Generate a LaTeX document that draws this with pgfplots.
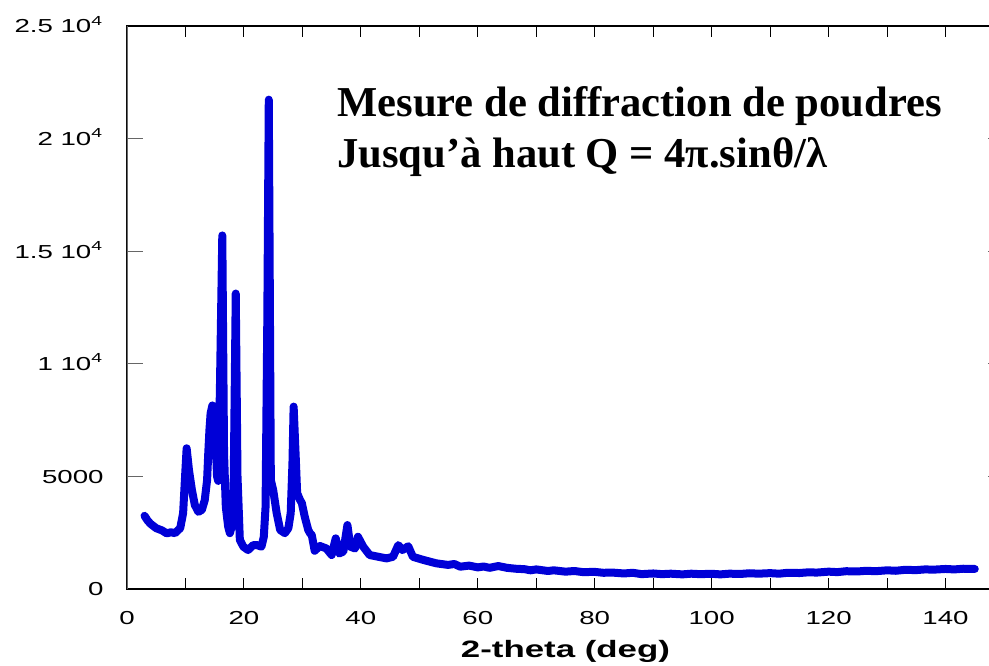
\documentclass[border=0pt]{standalone}
\usepackage{pgfplots}
\pgfplotsset{compat=1.18}
\usepackage{graphicx}
\usepackage{fontspec}
\setmainfont{Liberation Sans}
\newfontfamily\titlefont{Liberation Serif}
\usetikzlibrary{calc}
\definecolor{xrd}{RGB}{0,0,215}
% labels of the original are stretched sideways
\newcommand{\hs}[1]{\scalebox{1.47}[1]{#1}}

\begin{document}
\begin{tikzpicture}
\begin{axis}[
  name=ax,
  scale only axis,
  width=438.5pt, height=281.5pt,
  xmin=0, xmax=150, ymin=0, ymax=25000,
  scaled y ticks=false,
  xtick={0,10,...,150},
  xticklabels={\hs{0},,\hs{20},,\hs{40},,\hs{60},,\hs{80},,\hs{100},,\hs{120},,\hs{140},},
  ytick={0,5000,...,25000},
  minor ytick={0,5000,...,25000},
  yticklabels={\hs{0},\hs{5000},\hs{1 10\textsuperscript{4}},\hs{1.5 10\textsuperscript{4}},\hs{2 10\textsuperscript{4}},\hs{2.5 10\textsuperscript{4}}},
  tick align=inside,
  major tick length=5.5pt,
  minor tick length=8pt,
  axis line style={black, line width=0.7pt},
  xtick style={black, line width=0.5pt},
  ytick style={black!60, line width=0.6pt},
  tick label style={font=\fontsize{9.4}{11}\selectfont, inner sep=0pt},
  xticklabel style={anchor=base, yshift=-17.75pt},
  yticklabel style={anchor=base east, xshift=-11.5pt, yshift=-3.4pt},
  xlabel={\hs{\textbf{2-theta (deg)}}},
  xlabel style={font=\fontsize{11.85}{14}\selectfont, inner sep=0pt,
    at={(axis description cs:0.5,0)}, anchor=base, yshift=-34pt},
]
\addplot[xrd, line width=4pt, line join=round, line cap=round] coordinates {
(3.0,3250) (3.5,3050) (4.0,2900) (5.0,2700) (6.0,2600) (6.8,2470) (7.5,2520) (8.2,2480)
(9.1,2700) (9.6,3370) (9.9,4840) (10.2,6250) (10.6,5280) (11.1,4400) (11.6,3730) (12.2,3430)
(12.8,3510) (13.3,3950) (13.7,4840) (13.9,6040) (14.1,7060) (14.3,7800) (14.6,8150) (14.9,7500)
(15.2,6320) (15.4,5000) (15.6,4800) (15.9,9000) (16.3,15700) (16.6,6000) (16.9,3650) (17.3,2770)
(17.6,2480) (17.9,2770) (18.2,3500) (18.6,13120) (18.9,5000) (19.3,2180) (19.9,1880) (20.7,1730)
(21.6,1950) (22.2,1950) (23.0,1880) (23.4,2320) (23.7,3650) (24.0,12000) (24.25,21730) (24.6,4840)
(25.0,4400) (25.6,3370) (26.2,2620) (27.0,2480) (27.6,2700) (28.0,3370) (28.3,5590) (28.5,8100)
(28.9,5590) (29.1,4260) (29.6,3950) (29.9,3820) (30.4,3210) (31.0,2620) (31.3,2480) (31.6,2400)
(32.1,1700) (33.0,1910) (34.1,1800) (35.0,1510) (35.7,2250) (36.3,1580) (37.0,1660) (37.7,2840)
(38.2,1880) (39.0,1800) (39.5,2320) (40.4,1880) (41.5,1510) (43.0,1430) (44.4,1360) (45.5,1430)
(46.4,1950) (47.1,1730) (48.1,1900) (48.9,1430) (50.7,1290) (52.9,1140) (54.9,1070) (56,1110)
(57,990) (58.5,1040) (60,960) (61,1000) (62,940) (63.5,1020) (65,940) (66.5,900) (68,880) (69,830)
(70,870) (72,800) (73,830) (75,770) (76.5,800) (78,750) (80,760) (81.5,720) (83,730) (85,690)
(86.5,720) (88,660) (90,690) (91.5,660) (93,680) (95,650) (96.5,680) (98,660) (100,675) (101.5,650)
(103,680) (105,670) (106.5,700) (108,680) (110,705) (111.5,680) (113,720) (115,710) (116.5,740)
(118,730) (120,770) (121.5,750) (123,790) (125,780) (126.5,810) (128,790) (130,830) (131.5,810)
(133,850) (135,840) (136.5,870) (138,860) (140,890) (141.5,870) (143,900) (145,890)
};
\draw[black!60, line width=1pt] (rel axis cs:0,0) -- (rel axis cs:0,1);
\end{axis}
\node[anchor=base west, inner sep=0pt, font=\titlefont\bfseries\fontsize{21.3}{25}\selectfont]
  at ($(ax.south west)+(105pt,236pt)$) {Mesure de diffraction de poudres};
\node[anchor=base west, inner sep=0pt, font=\titlefont\bfseries\fontsize{21.3}{25}\selectfont]
  at ($(ax.south west)+(105pt,211pt)$) {Jusqu’à haut Q = 4π.sinθ/λ};
\pgfresetboundingbox
\path[use as bounding box] ($(ax.south west)+(-63.5pt,-38pt)$) rectangle ($(ax.south west)+(431pt,294.5pt)$);
\end{tikzpicture}
\end{document}
